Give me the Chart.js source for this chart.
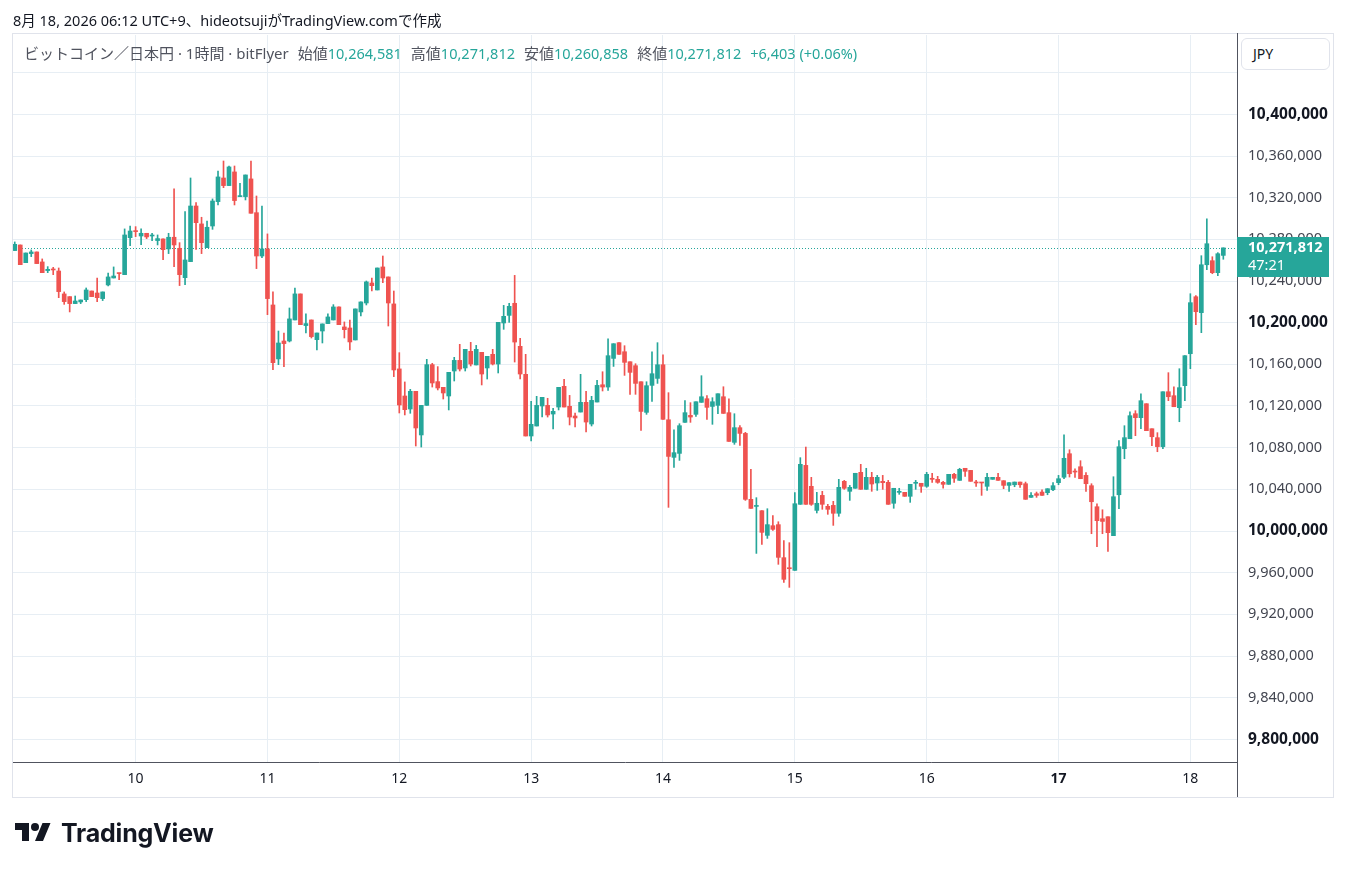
<!DOCTYPE html>
<html lang="ja">
<head>
<meta charset="utf-8">
<title>ビットコイン／日本円 · 1時間 · bitFlyer</title>
<script src="https://cdn.jsdelivr.net/npm/chart.js@4.4.1/dist/chart.umd.min.js"></script>
<style>
  html, body { margin:0; padding:0; background:#ffffff; }
  body { width:1346px; height:872px; position:relative; overflow:hidden;
         font-family:"Noto Sans","Noto Sans CJK JP",sans-serif; color:#131722; }
  #chart { position:absolute; left:0; top:0; }
  #created { position:absolute; left:13px; top:9px; font-size:14.5px; color:#131722; white-space:nowrap; }
  #legend { position:absolute; left:24px; top:42px; font-size:15px; color:#50535e; white-space:nowrap; }
  #legend .v { color:#26a69a; font-size:14.5px; }
  #legend .g { margin-left:9px; }
  #unit { position:absolute; left:1241px; top:38px; width:89px; height:32px; box-sizing:border-box;
          border:1px solid #e0e3eb; border-radius:6px; background:#fff; font-size:14px;
          line-height:30px; padding-left:11px; color:#131722; }
  #logo { position:absolute; left:15px; top:818px; height:30px; display:flex; align-items:center; }
  #logo span { font-family:"Inter","Noto Sans",sans-serif; font-weight:700; font-size:25px; color:#131722;
               margin-left:10px; letter-spacing:-0.2px; }
</style>
</head>
<body>
<canvas id="chart" width="1346" height="872"></canvas>
<div id="created">8月 18, 2026 06:12 UTC+9、hideotsujiがTradingView.comで作成</div>
<div id="legend">ビットコイン／日本円 · 1時間 · bitFlyer<span class="g">始値</span><span class="v">10,264,581</span><span class="g">高値</span><span class="v">10,271,812</span><span class="g">安値</span><span class="v">10,260,858</span><span class="g">終値</span><span class="v">10,271,812</span><span class="v g">+6,403 (+0.06%)</span></div>
<div id="unit">JPY</div>
<div id="logo">
  <svg width="36" height="28" viewBox="0 0 36 28"><path d="M14 22H7V11H0V4h14v18zM28 22h-8l7.5-18h8L28 22z" fill="#131722"/><circle cx="20" cy="8" r="4" fill="#131722"/></svg>
  <span>TradingView</span>
</div>
<script>
// 1-hour candles, first candle = Aug 9 02:00 (hours measured from Aug 10 00:00), values in thousand JPY
const FIRST_HOUR = -22;
const UNIT = 1000;
const open = [10269.2,10274.6,10257.6,10266.3,10267.9,10258.3,10250.0,10251.5,10249.6,10227.6,10225.0,10218.3,10219.9,10222.1,10230.4,10228.5,10223.1,10236.2,10242.9,10247.7,
10246.1,10281.6,10288.0,10283.2,10285.8,10283.2,10278.8,10280.4,10270.8,10282.0,10271.4,10243.2,10258.6,10312.0,10294.8,10272.0,10292.8,10316.2,10338.9,10331.6,
10344.7,10321.0,10321.0,10338.0,10305.6,10264.0,10270.8,10217.0,10165.2,10182.4,10182.4,10202.6,10227.6,10197.2,10202.6,10183.7,10192.0,10199.1,10202.6,10215.1,
10195.9,10194.9,10183.4,10210.3,10218.9,10238.1,10231.4,10253.5,10243.9,10218.0,10155.6,10129.6,10117.1,10134.1,10092.2,10120.6,10159.7,10143.4,10137.9,10129.6,
10153.6,10163.8,10156.5,10172.5,10159.4,10171.5,10156.5,10169.6,10160.3,10199.7,10207.0,10218.6,10177.3,10150.4,10091.2,10100.8,10120.0,10120.6,10112.3,10119.0,
10138.9,10119.7,10110.4,10114.2,10123.5,10102.7,10123.8,10140.4,10138.2,10165.7,10180.8,10172.1,10162.5,10158.7,10143.3,10113.9,10139.8,10146.5,10159.6,10106.8,
10070.7,10074.5,10104.3,10111.0,10112.0,10123.5,10127.0,10119.6,10120.6,10128.9,10113.6,10085.1,10099.2,10093.7,10030.4,10023.6,10019.5,9995.8,10005.1,10006.1,
9974.4,9964.4,9962.2,10025.6,10063.0,10042.9,10019.8,10034.2,10023.7,10024.6,10017.0,10047.7,10038.1,10041.0,10056.3,10040.0,10051.5,10046.1,10047.7,10046.7,
10026.6,10037.1,10037.1,10033.3,10045.8,10045.8,10042.9,10050.6,10049.6,10046.7,10044.8,10054.4,10048.6,10060.2,10058.2,10046.7,10046.7,10042.9,10049.6,10051.5,
10048.3,10043.8,10044.4,10047.0,10045.4,10032.3,10035.8,10037.4,10036.8,10039.6,10046.4,10051.6,10074.2,10057.2,10061.7,10053.4,10043.5,10023.3,10011.8,10013.7,
9995.5,10034.8,10079.0,10088.6,10112.6,10108.8,10122.2,10098.2,10089.6,10081.0,10133.7,10129.9,10118.4,10139.5,10170.2,10224.9,10209.6,10255.6,10259.5,10248.0,
10264.581];
const high = [10277.5,10274.6,10266.9,10269.8,10267.9,10261.2,10253.8,10253.1,10252.5,10229.5,10225.0,10225.6,10221.8,10233.3,10230.4,10242.9,10229.5,10247.7,10253.5,10247.7,
10290.0,10292.8,10292.2,10290.0,10285.8,10285.8,10284.2,10280.4,10285.8,10328.4,10276.8,10306.6,10338.9,10315.2,10301.2,10297.6,10318.8,10345.6,10355.2,10350.4,
10350.4,10333.8,10341.8,10355.2,10321.6,10312.0,10285.2,10229.5,10192.0,10190.1,10214.1,10233.3,10227.6,10208.4,10202.6,10190.1,10198.8,10208.4,10217.3,10215.1,
10200.7,10202.6,10213.2,10219.9,10240.0,10242.9,10252.5,10264.0,10243.9,10230.4,10171.2,10143.1,10136.0,10134.1,10120.6,10164.8,10161.0,10157.8,10137.9,10152.3,
10166.7,10179.2,10174.4,10181.1,10178.2,10171.5,10167.7,10174.4,10200.3,10216.6,10218.6,10245.4,10185.0,10169.6,10124.5,10129.3,10128.3,10127.4,10117.8,10137.9,
10145.6,10130.2,10113.3,10150.4,10134.1,10129.3,10144.6,10152.9,10184.6,10179.8,10180.8,10177.9,10162.5,10160.6,10143.3,10143.3,10172.1,10180.8,10169.2,10132.8,
10097.2,10103.0,10125.1,10123.2,10124.1,10149.1,10129.9,10128.0,10131.8,10138.5,10127.0,10112.6,10101.1,10094.7,10059.2,10032.0,10019.5,10021.4,10014.7,10008.9,
9990.7,9988.8,10036.8,10070.4,10080.6,10051.5,10037.1,10038.1,10025.6,10028.5,10049.6,10048.6,10043.8,10055.4,10064.0,10060.2,10056.3,10053.4,10053.4,10048.6,
10041.0,10041.0,10037.1,10044.8,10048.6,10045.8,10056.3,10055.4,10052.5,10047.7,10054.4,10055.4,10060.2,10060.2,10058.2,10048.6,10046.7,10055.4,10051.5,10055.4,
10048.3,10046.4,10047.0,10047.0,10047.0,10036.8,10037.4,10039.6,10040.6,10046.4,10053.4,10092.4,10078.0,10059.8,10067.5,10056.0,10045.4,10026.2,10020.4,10013.7,
10052.1,10086.7,10101.1,10114.5,10115.5,10131.8,10122.2,10098.2,10094.4,10133.7,10152.0,10138.5,10155.8,10168.3,10227.8,10225.9,10264.3,10299.8,10263.3,10267.2,
10271.812];
const low = [10269.2,10255.7,10257.6,10263.4,10256.7,10248.0,10248.0,10246.1,10224.0,10217.6,10210.3,10218.3,10218.3,10220.2,10225.0,10220.2,10221.2,10235.2,10242.9,10241.3,
10246.1,10274.0,10282.6,10274.9,10280.7,10278.8,10274.6,10260.5,10266.3,10253.8,10235.6,10236.5,10258.6,10270.4,10266.3,10272.0,10289.6,10313.0,10329.6,10331.6,
10313.0,10321.0,10317.8,10305.0,10251.9,10262.4,10207.7,10154.9,10159.7,10157.8,10181.5,10202.6,10198.1,10190.1,10185.3,10173.8,10180.5,10199.1,10202.6,10198.1,
10185.3,10173.8,10183.4,10206.4,10217.0,10230.4,10231.4,10238.4,10196.8,10148.2,10113.3,10111.4,10113.0,10081.6,10080.6,10120.6,10138.2,10135.4,10126.7,10116.2,
10144.0,10153.6,10153.6,10158.4,10159.4,10140.2,10145.9,10159.4,10151.7,10193.6,10200.3,10162.2,10145.9,10091.2,10086.4,10100.8,10109.4,10109.4,10097.9,10116.2,
10119.0,10101.8,10099.8,10114.2,10095.0,10100.8,10123.8,10134.4,10135.0,10158.0,10169.6,10149.4,10131.2,10131.2,10096.6,10112.0,10124.4,10141.7,10107.2,10022.7,
10061.1,10067.8,10104.3,10104.3,10110.0,10123.5,10107.2,10102.4,10112.6,10112.9,10086.0,10083.2,10082.2,10029.4,10021.7,9978.5,9987.2,9992.9,10000.6,9968.0,
9950.7,9945.9,9962.2,10025.6,10025.6,10024.6,10017.3,10020.8,10016.0,10005.4,10014.1,10040.0,10029.4,10041.0,10040.0,10040.0,10038.1,10039.0,10040.0,10025.6,
10021.8,10035.2,10033.3,10027.5,10040.0,10037.1,10041.9,10046.7,10045.8,10041.0,10044.8,10046.7,10048.6,10052.5,10047.7,10042.9,10034.2,10039.0,10049.6,10048.6,
10040.6,10038.0,10042.5,10041.9,10030.4,10032.3,10032.3,10034.2,10034.8,10038.7,10044.4,10050.2,10051.8,10051.5,10050.2,10038.0,9997.4,9984.9,9997.4,9980.4,
9995.5,10021.4,10069.4,10088.6,10091.5,10098.2,10096.3,10081.9,10076.1,10079.0,10125.1,10119.3,10104.9,10125.1,10155.8,10198.0,10190.4,10250.8,10247.0,10245.1,
10260.858];
const close = [10275.2,10255.7,10266.9,10267.9,10256.7,10248.0,10251.2,10250.6,10229.8,10220.2,10218.3,10220.8,10221.8,10231.4,10225.0,10224.0,10229.5,10243.9,10244.8,10247.1,
10284.2,10288.0,10287.4,10285.8,10282.3,10283.8,10280.7,10270.1,10282.0,10274.6,10246.1,10260.2,10312.0,10296.0,10276.8,10291.6,10316.8,10339.9,10331.6,10349.5,
10317.2,10321.6,10341.8,10305.0,10264.0,10270.8,10223.1,10161.6,10180.5,10179.9,10203.6,10227.6,10198.1,10199.1,10186.6,10190.1,10198.8,10205.5,10215.1,10198.1,
10193.3,10181.5,10213.2,10219.9,10239.1,10235.5,10252.5,10242.9,10218.9,10154.6,10121.0,10116.5,10134.1,10098.9,10120.6,10159.7,10142.1,10137.3,10132.5,10152.3,
10163.8,10155.5,10174.4,10160.3,10174.4,10150.7,10167.7,10160.3,10200.3,10206.1,10215.7,10181.4,10150.7,10091.2,10102.4,10120.6,10128.3,10111.4,10114.9,10137.9,
10119.0,10109.4,10108.5,10123.5,10104.6,10125.4,10139.8,10138.2,10168.3,10179.8,10169.6,10161.9,10152.3,10141.7,10114.8,10139.5,10151.0,10159.6,10107.2,10071.6,
10075.2,10101.1,10113.6,10109.4,10124.1,10128.9,10118.7,10124.1,10131.8,10112.9,10086.0,10099.2,10093.7,10030.4,10021.7,10024.3,9998.7,10006.1,10001.6,9974.7,
9953.6,9963.8,10026.2,10064.0,10025.6,10025.6,10026.6,10025.6,10020.8,10017.0,10041.9,10041.0,10041.9,10055.4,10040.0,10051.5,10045.1,10051.5,10046.4,10025.6,
10041.0,10038.1,10033.3,10044.8,10046.7,10042.9,10054.4,10049.6,10046.7,10044.8,10054.4,10050.6,10059.2,10057.3,10047.7,10046.1,10046.1,10051.5,10051.5,10048.6,
10043.8,10046.4,10047.0,10044.4,10030.4,10034.2,10034.2,10034.2,10040.6,10043.5,10050.2,10069.8,10055.0,10056.6,10050.2,10045.4,10028.1,10009.9,10009.2,9998.4,
10032.9,10080.9,10089.6,10110.7,10108.8,10125.1,10096.3,10090.5,10081.0,10133.7,10128.9,10119.3,10137.6,10168.3,10219.2,10210.5,10255.6,10275.8,10248.0,10266.2,
10271.812];

const dayTicks = [0, 24, 48, 72, 96, 120, 144, 168, 192];
const dayLabels = ['10', '11', '12', '13', '14', '15', '16', '17', '18'];
const boldDay = '17';
const priceTicks = [9800000, 9840000, 9880000, 9920000, 9960000, 10000000, 10040000, 10080000, 10120000,
                    10160000, 10200000, 10240000, 10280000, 10320000, 10360000, 10400000, 10440000];
const lastPrice = 10271812;
const countdown = '47:21';

const UP = '#26a69a', DOWN = '#ef5350';
const GRID = '#e7eef4';
const AXIS = '#50535e';
const FONT = '"Noto Sans", "Noto Sans CJK JP", sans-serif';

const hours = open.map((_, i) => FIRST_HOUR + i);
const candleColor = open.map((o, i) => close[i] >= o ? UP : DOWN);
const bodies = hours.map((h, i) => ({ x: h, y: [open[i] * UNIT, close[i] * UNIT] }));
const wicks = hours.map((h, i) => ({ x: h, y: [low[i] * UNIT, high[i] * UNIT] }));

const fmt = v => Math.round(v).toLocaleString('en-US');
const tickVal = ctx => (ctx && ctx.tick) ? ctx.tick.value : null;
const isMajorPrice = v => v !== null && v % 200000 === 0;

const overlay = {
  id: 'overlay',
  beforeDraw(chart) {
    const c = chart.ctx;
    c.save();
    c.strokeStyle = '#e0e3eb';
    c.lineWidth = 1;
    c.strokeRect(12.5, 33.5, 1321, 764);
    c.restore();
  },
  beforeDatasetsDraw(chart) {
    const c = chart.ctx, a = chart.chartArea;
    const y = Math.round(chart.scales.y.getPixelForValue(lastPrice)) + 0.5;
    c.save();
    c.strokeStyle = UP;
    c.lineWidth = 1;
    c.setLineDash([1, 2]);
    c.beginPath(); c.moveTo(a.left, y); c.lineTo(a.right, y); c.stroke();
    c.restore();
  },
  afterDraw(chart) {
    const c = chart.ctx, a = chart.chartArea;
    c.save();
    c.strokeStyle = AXIS;
    c.lineWidth = 1;
    c.beginPath(); c.moveTo(a.right + 0.5, 33); c.lineTo(a.right + 0.5, 797); c.stroke();
    const y = chart.scales.y.getPixelForValue(lastPrice);
    c.fillStyle = UP;
    c.fillRect(a.right, Math.round(y) - 11, 92, 40);
    c.fillStyle = '#ffffff';
    c.font = '700 14.5px ' + FONT;
    c.textBaseline = 'middle';
    c.textAlign = 'left';
    c.fillText(fmt(lastPrice), a.right + 11, Math.round(y) - 0.5);
    c.font = '400 14.5px ' + FONT;
    c.fillText(countdown, a.right + 11, Math.round(y) + 18);
    c.restore();
  }
};

new Chart(document.getElementById('chart'), {
  type: 'bar',
  data: {
    datasets: [
      { label: 'body', data: bodies, backgroundColor: candleColor, barThickness: 4, minBarLength: 1, grouped: false, borderWidth: 0 },
      { label: 'wick', data: wicks, backgroundColor: candleColor, barThickness: 1, grouped: false, borderWidth: 0 }
    ]
  },
  options: {
    responsive: false,
    animation: false,
    devicePixelRatio: 1,
    layout: { padding: { left: 13, top: 35, right: 13, bottom: 75 } },
    plugins: { legend: { display: false }, tooltip: { enabled: false } },
    scales: {
      x: {
        type: 'linear', min: -22.32, max: 200.49, offset: false,
        grid: { color: GRID, drawTicks: false, offset: false },
        border: { display: true, color: AXIS },
        afterBuildTicks: s => { s.ticks = dayTicks.map(v => ({ value: v })); },
        afterFit: s => { s.height = 35; },
        ticks: {
          autoSkip: false, maxRotation: 0, padding: 9,
          callback: v => dayLabels[dayTicks.indexOf(v)],
          color: '#131722',
          font: ctx => ({ family: FONT, size: 14, weight: dayLabels[dayTicks.indexOf(tickVal(ctx))] === boldDay ? '700' : '400' })
        }
      },
      y: {
        position: 'right', min: 9778240, max: 10476160,
        grid: { color: GRID, drawTicks: false },
        border: { display: false },
        afterBuildTicks: s => { s.ticks = priceTicks.map(v => ({ value: v })); },
        afterFit: s => { s.width = 96; },
        ticks: {
          padding: 11,
          callback: v => v > 10420000 ? '' : fmt(v),
          color: ctx => isMajorPrice(tickVal(ctx)) ? '#131722' : '#434651',
          font: ctx => ({ family: FONT, size: isMajorPrice(tickVal(ctx)) ? 15.5 : 14.5, weight: isMajorPrice(tickVal(ctx)) ? '700' : '400' })
        }
      }
    }
  },
  plugins: [overlay]
});
</script>
</body>
</html>
